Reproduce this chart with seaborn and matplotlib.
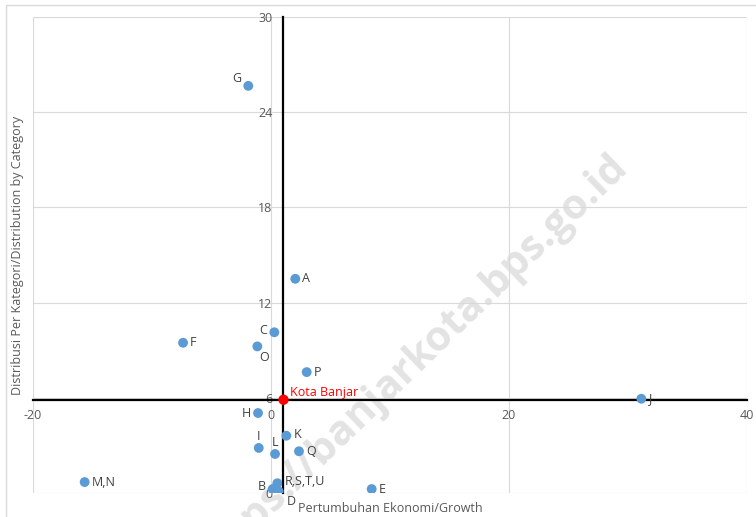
import pandas as pd
import seaborn as sns
import matplotlib.pyplot as plt
from matplotlib.patches import Rectangle

# Data: pertumbuhan (x) dan distribusi (y) per kategori
kategori = ['G', 'A', 'C', 'F', 'O', 'P', 'J', 'H', 'K', 'I', 'L', 'Q',
            'M,N', 'R,S,T,U', 'B', 'D', 'E']
pertumbuhan = [-1.91, 2.04, 0.28, -7.39, -1.15, 3.0, 31.12, -1.09, 1.29,
               -1.03, 0.34, 2.35, -15.66, 0.53, 0.14, 0.65, 8.46]
distribusi = [25.66, 13.5, 10.13, 9.47, 9.24, 7.62, 5.94, 5.04, 3.61,
              2.84, 2.46, 2.63, 0.69, 0.61, 0.25, 0.1, 0.25]

kota_nama = 'Kota Banjar'
kota_x = 1.05
kota_y = 5.88

x_ticks = [-20, 0, 20, 40]
y_ticks = [0, 6, 12, 18, 24, 30]

# posisi label per kategori (offset in points, ha)
label_pos = {
    'G': (-5, 5, 'right'), 'A': (5, 0, 'left'), 'C': (-5, 1, 'right'),
    'F': (5, 0, 'left'), 'O': (5, -8, 'center'), 'P': (5, 0, 'left'),
    'J': (5, 0, 'left'), 'H': (-5, 0, 'right'), 'K': (5, 1, 'left'),
    'I': (0, 8, 'center'), 'L': (0, 8, 'center'), 'Q': (5, 0, 'left'),
    'M,N': (5, 0, 'left'), 'R,S,T,U': (5, 1, 'left'), 'B': (-5, 2, 'right'),
    'D': (9, -7, 'center'), 'E': (5, 0, 'left'),
}

df = pd.DataFrame({'Kategori': kategori, 'Pertumbuhan': pertumbuhan,
                   'Distribusi': distribusi})

sns.set_style('white')
plt.rcParams['font.family'] = ['Open Sans', 'DejaVu Sans']
plt.rcParams['axes.unicode_minus'] = False

fig = plt.figure(figsize=(7.56, 5.17), dpi=100)
ax = fig.add_axes([33 / 756, 24 / 517, 714 / 756, 476 / 517])
ax.patch.set_visible(False)

# bingkai luar
fig.patches.append(Rectangle((6 / 756, -0.1), 1.2, 1 - 5 / 517 + 0.1,
                             transform=fig.transFigure, fill=False,
                             edgecolor='#d9d9d9', linewidth=1))

# watermark (achter de punten)
fig.text(622 / 756, 1 - 160 / 517, 'https://banjarkota.bps.go.id',
         rotation=44, rotation_mode='anchor', ha='right', va='center',
         fontsize=30, fontweight='bold', color='#e3e3e3', zorder=-1)

sns.scatterplot(data=df, x='Pertumbuhan', y='Distribusi', color='#5b9bd5',
                s=50, edgecolor='none', ax=ax, zorder=3)
sns.scatterplot(x=[kota_x], y=[kota_y], color='#ff0000', s=55,
                edgecolor='none', ax=ax, zorder=4)

for k, xv, yv in zip(kategori, pertumbuhan, distribusi):
    dx, dy, ha = label_pos[k]
    ax.annotate(k, (xv, yv), xytext=(dx, dy), textcoords='offset points',
                ha=ha, va='center', fontsize=9, color='#404040', zorder=5)
ax.annotate(kota_nama, (kota_x, kota_y), xytext=(5, 5),
            textcoords='offset points', ha='left', va='center',
            fontsize=9, color='#ff0000', zorder=5)

ax.set_xlim(-20, 40)
ax.set_ylim(0, 30)
ax.set_xticks(x_ticks)
ax.set_yticks(y_ticks)
ax.grid(True, color='#d9d9d9', linewidth=0.8)

# sumbu bersilang di titik Kota Banjar
ax.spines['left'].set_position(('data', kota_x))
ax.spines['bottom'].set_position(('data', kota_y))
for s in ['left', 'bottom']:
    ax.spines[s].set_color('black')
    ax.spines[s].set_linewidth(1.6)
    ax.spines[s].set_zorder(2.5)
for s in ['top', 'right']:
    ax.spines[s].set_visible(False)

ax.tick_params(axis='both', length=0, labelsize=9, labelcolor='#595959')
ax.tick_params(axis='y', pad=8)
ax.tick_params(axis='x', pad=7)
ax.set_xlabel('')
ax.set_ylabel('')

fig.text(390 / 756, 1 - 508 / 517, 'Pertumbuhan Ekonomi/Growth',
         ha='center', va='center', fontsize=9, color='#595959')
fig.text(18 / 756, 1 - 255 / 517,
         'Distribusi Per Kategori/Distribution by Category', rotation=90,
         ha='center', va='center', fontsize=9, color='#595959')

fig.savefig('out.png', dpi=100)
